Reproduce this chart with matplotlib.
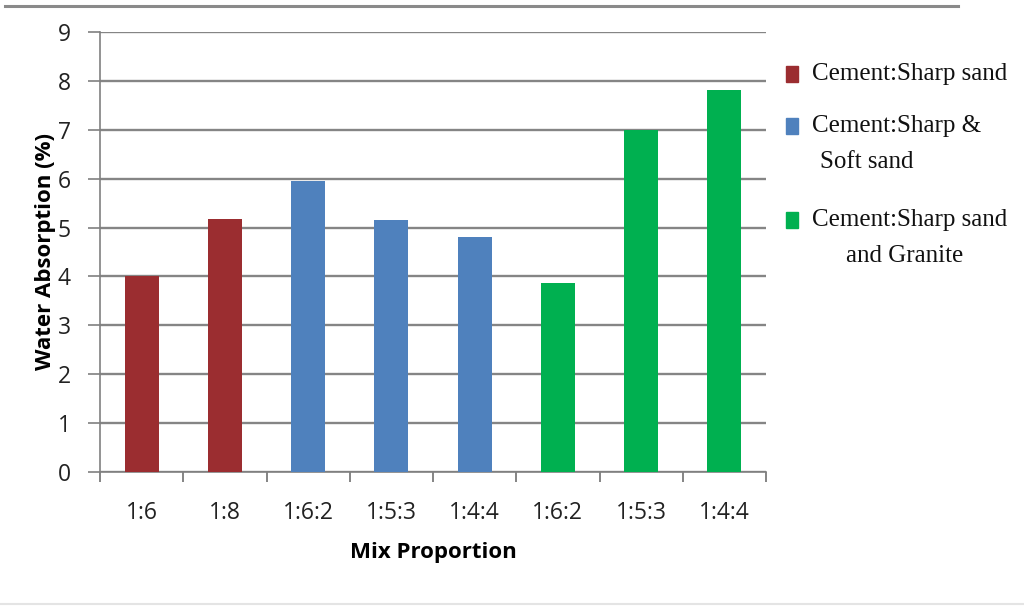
import numpy as np
import matplotlib.pyplot as plt
from matplotlib.patches import Rectangle
from matplotlib.lines import Line2D

# mix proportions and water absorption (%)
mixes = ['1:6', '1:8', '1:6:2', '1:5:3', '1:4:4', '1:6:2', '1:5:3', '1:4:4']
absorption = [4.0, 5.17, 5.95, 5.15, 4.8, 3.86, 7.0, 7.82]
group = [0, 0, 1, 1, 1, 2, 2, 2]

series_names = ['Cement:Sharp sand', 'Cement:Sharp &\nSoft sand', 'Cement:Sharp sand\nand Granite']
series_colors = ['#9B2D30', '#4F81BD', '#00B050']

fig = plt.figure(figsize=(10.24, 6.06), dpi=100)
ax = fig.add_axes([100 / 1024, 1 - 472 / 606, 666 / 1024, 440 / 606])

x = np.arange(len(mixes))
ax.bar(x, absorption, width=0.41, color=[series_colors[g] for g in group], zorder=3)

ax.set_xlim(-0.5, len(mixes) - 0.5)
ax.set_ylim(0, 9)
ax.set_yticks(range(10))
ax.set_xticks(x)
ax.set_xticklabels(mixes)
ax.set_xticks(np.arange(-0.5, len(mixes)), minor=True)
ax.tick_params(axis='x', which='major', length=0, pad=21, labelsize=16.5, labelcolor='#222222')
ax.tick_params(axis='x', which='minor', length=7, width=1.2, color='#707070')
ax.tick_params(axis='y', length=9, width=1.2, color='#808080', pad=12, labelsize=16.5, labelcolor='#222222')
ax.grid(axis='y', color='#858585', linewidth=1.7, zorder=0)

for side in ['top', 'right']:
    ax.spines[side].set_visible(False)
for side in ['left', 'bottom']:
    ax.spines[side].set_color('#808080')
    ax.spines[side].set_linewidth(1.2)

for lbl in ax.get_xticklabels() + ax.get_yticklabels():
    lbl.set_family('Open Sans')

ax.set_xlabel('Mix Proportion', fontsize=16, fontweight='bold', family='Open Sans', labelpad=12)
ax.set_ylabel('Water Absorption (%)', fontsize=16, fontweight='bold', family='Open Sans', labelpad=1)

# legend drawn by hand to the right of the plot
legend_y = [74, 126, 220]
for name, color, ly in zip(series_names, series_colors, legend_y):
    fig.patches.append(Rectangle((786 / 1024, 1 - (ly + 8) / 606), 12 / 1024, 16 / 606,
                                 transform=fig.transFigure, color=color))
    lines = name.split('\n')
    fig.text(812 / 1024, 1 - ly / 606, lines[0], family='Liberation Serif', fontsize=18,
             va='center', ha='left', color='#111111')
    if len(lines) > 1:
        offset = 8 if 'Soft' in lines[1] else 34
        fig.text((812 + offset) / 1024, 1 - (ly + 36) / 606, lines[1], family='Liberation Serif',
                 fontsize=18, va='center', ha='left', color='#111111')

# rules above and below the chart
fig.add_artist(Line2D([5 / 1024, 958 / 1024], [1 - 6 / 606] * 2, color='#8a8a8a', linewidth=2.2))
fig.add_artist(Line2D([0, 1], [1 - 604 / 606] * 2, color='#e4e4e4', linewidth=1.5))

fig.savefig('out.png', dpi=100)
